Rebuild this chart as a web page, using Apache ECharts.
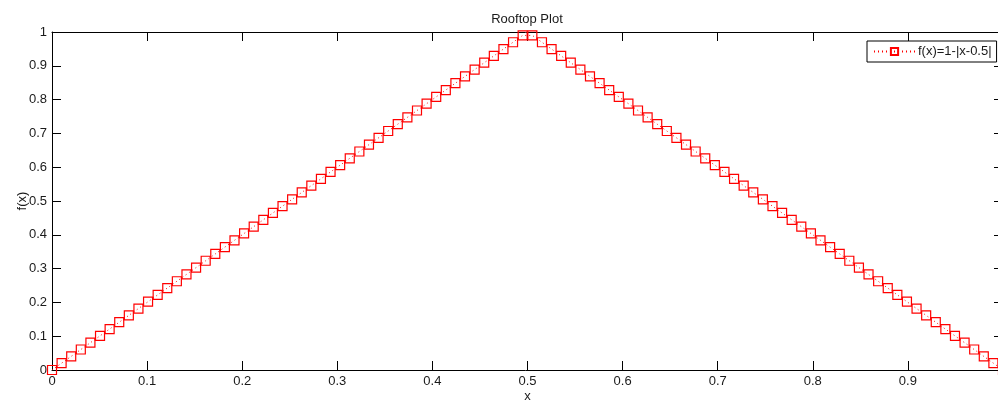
<!DOCTYPE html>
<html>
<head>
<meta charset="utf-8">
<script src="https://cdn.jsdelivr.net/npm/echarts@6/dist/echarts.min.js"></script>
<style>
html,body{margin:0;padding:0;overflow:hidden;background:#fff;}
#chart{width:998px;height:403px;}
</style>
</head>
<body>
<div id="chart"></div>
<script>
const titleText = 'Rooftop Plot';
const seriesName = 'f(x)=1-|x-0.5|';
const xValues = [0,0.0101,0.0202,0.0303,0.0404,0.0505,0.0606,0.0707,0.0808,0.0909,
0.1010,0.1111,0.1212,0.1313,0.1414,0.1515,0.1616,0.1717,0.1818,0.1919,
0.2020,0.2121,0.2222,0.2323,0.2424,0.2525,0.2626,0.2727,0.2828,0.2929,
0.3030,0.3131,0.3232,0.3333,0.3434,0.3535,0.3636,0.3737,0.3838,0.3939,
0.4040,0.4141,0.4242,0.4343,0.4444,0.4545,0.4646,0.4747,0.4848,0.4949,
0.5051,0.5152,0.5253,0.5354,0.5455,0.5556,0.5657,0.5758,0.5859,0.5960,
0.6061,0.6162,0.6263,0.6364,0.6465,0.6566,0.6667,0.6768,0.6869,0.6970,
0.7071,0.7172,0.7273,0.7374,0.7475,0.7576,0.7677,0.7778,0.7879,0.7980,
0.8081,0.8182,0.8283,0.8384,0.8485,0.8586,0.8687,0.8788,0.8889,0.8990,
0.9091,0.9192,0.9293,0.9394,0.9495,0.9596,0.9697,0.9798,0.9899,1];
const yValues = [0,0.0202,0.0404,0.0606,0.0808,0.1010,0.1212,0.1414,0.1616,0.1818,
0.2020,0.2222,0.2424,0.2626,0.2828,0.3030,0.3232,0.3434,0.3636,0.3838,
0.4040,0.4242,0.4444,0.4646,0.4848,0.5051,0.5253,0.5455,0.5657,0.5859,
0.6061,0.6263,0.6465,0.6667,0.6869,0.7071,0.7273,0.7475,0.7677,0.7879,
0.8081,0.8283,0.8485,0.8687,0.8889,0.9091,0.9293,0.9495,0.9697,0.9899,
0.9899,0.9697,0.9495,0.9293,0.9091,0.8889,0.8687,0.8485,0.8283,0.8081,
0.7879,0.7677,0.7475,0.7273,0.7071,0.6869,0.6667,0.6465,0.6263,0.6061,
0.5859,0.5657,0.5455,0.5253,0.5051,0.4848,0.4646,0.4444,0.4242,0.4040,
0.3838,0.3636,0.3434,0.3232,0.3030,0.2828,0.2626,0.2424,0.2222,0.2020,
0.1818,0.1616,0.1414,0.1212,0.1010,0.0808,0.0606,0.0404,0.0202,0];
const xTickLabels = ['0','0.1','0.2','0.3','0.4','0.5','0.6','0.7','0.8','0.9','1'];
const yTickLabels = ['0','0.1','0.2','0.3','0.4','0.5','0.6','0.7','0.8','0.9','1'];

const FONT = 'Liberation Sans, Arial, Helvetica, sans-serif';
const TXT = '#1a1a1a';
const FS = 13;
const data = xValues.map((x, i) => [x, yValues[i]]);
const fmt = labels => v => { const i = Math.round(v * 10); return labels[i] !== undefined ? labels[i] : ''; };

const axisCommon = {
  min: 0, max: 1, interval: 0.1,
  axisLine: {show: true, onZero: false, lineStyle: {color: '#000', width: 1}},
  axisTick: {show: true, inside: true, length: 9, lineStyle: {color: '#000', width: 1}},
  splitLine: {show: false}
};

const chart = echarts.init(document.getElementById('chart'), null, {renderer: 'canvas'});
chart.setOption({
  animation: false,
  backgroundColor: '#fff',
  title: {
    text: titleText, left: 527, textAlign: 'center', top: 13, padding: 0,
    textStyle: {fontFamily: FONT, fontSize: FS, fontWeight: 'normal', color: TXT}
  },
  legend: {
    left: 867, top: 41, orient: 'horizontal',
    backgroundColor: '#fff', borderColor: '#000', borderWidth: 1, borderRadius: 0,
    padding: [4, 5, 4, 6], itemWidth: 41, itemHeight: 9, itemGap: 4,
    textStyle: {fontFamily: FONT, fontSize: FS, color: TXT, padding: [0, 0, 0, -2]},
    data: [seriesName]
  },
  grid: {left: 52, top: 32, width: 951, height: 338, containLabel: false, outerBoundsMode: 'none'},
  xAxis: [
    Object.assign({}, axisCommon, {
      type: 'value', position: 'bottom', name: 'x', nameLocation: 'middle', nameGap: 20,
      nameMoveOverlap: false,
      nameTextStyle: {fontFamily: FONT, fontSize: FS, color: TXT},
      axisLabel: {show: true, margin: 5, fontFamily: FONT, fontSize: FS, color: TXT, formatter: fmt(xTickLabels)}
    }),
    Object.assign({}, axisCommon, {type: 'value', position: 'top', axisLabel: {show: false}})
  ],
  yAxis: [
    Object.assign({}, axisCommon, {
      type: 'value', position: 'left', name: 'f(x)', nameLocation: 'middle', nameGap: 23,
      nameMoveOverlap: false,
      nameTextStyle: {fontFamily: FONT, fontSize: FS, color: TXT},
      axisLabel: {show: true, margin: 5, fontFamily: FONT, fontSize: FS, color: TXT, formatter: fmt(yTickLabels)}
    }),
    Object.assign({}, axisCommon, {type: 'value', position: 'right', axisLabel: {show: false}})
  ],
  series: [{
    name: seriesName, type: 'line', xAxisIndex: 0, yAxisIndex: 0,
    data: data, clip: false,
    symbol: 'rect', symbolSize: 9, showAllSymbol: true,
    lineStyle: {color: '#ff0000', width: 1, type: [1, 3]},
    itemStyle: {color: 'rgba(255,0,0,0)', borderColor: '#ff0000', borderWidth: 1.2},
    emphasis: {disabled: true}
  }]
});
</script>
</body>
</html>
